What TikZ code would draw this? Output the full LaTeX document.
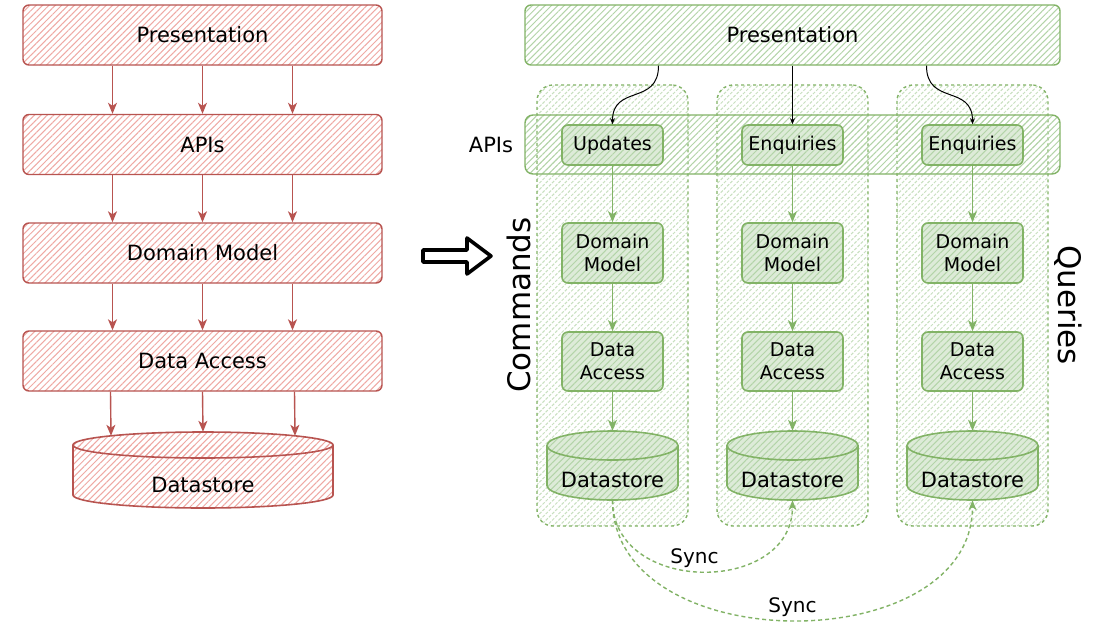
\documentclass[tikz,border=0pt]{standalone}
\usepackage{fontspec}
\setmainfont{DejaVu Sans}
\usetikzlibrary{arrows.meta,patterns.meta}
\definecolor{redline}{HTML}{B85450}
\definecolor{redhatch}{HTML}{EFA9A4}
\definecolor{greenline}{HTML}{82B366}
\definecolor{greenhatch}{HTML}{B3D4A8}
\definecolor{lanehatch}{HTML}{C8E0BF}
\definecolor{greenfill}{HTML}{DDEBD8}
\tikzset{
  hatch/.style={pattern={Lines[angle=45,distance=4.5pt,line width=1pt]}, pattern color=#1},
  txt/.style={font=\fontsize{21}{25}\selectfont},
  layer/.style={draw=redline, line width=1.4pt, rounded corners=6pt, hatch=redhatch, minimum width=359pt, minimum height=60pt, txt},
  lane/.style={draw=greenline, line width=1.4pt, dash pattern=on 3pt off 3pt, rounded corners=16pt, hatch=lanehatch, minimum width=151pt, minimum height=441pt},
  band/.style={draw=greenline, line width=1.4pt, rounded corners=8pt, hatch=greenhatch, minimum width=535pt, minimum height=59pt},
  cell/.style={draw=greenline, line width=1.6pt, rounded corners=6pt, preaction={fill=greenfill}, hatch=greenhatch, minimum width=101pt, align=center, font=\fontsize{19}{23}\selectfont},
  drum/.style={inner sep=0pt, txt},
  redcyl/.style={draw=redline, line width=1.6pt, hatch=redhatch},
  greencyl/.style={draw=greenline, line width=1.6pt, preaction={fill=greenfill}, hatch=greenhatch},
  redarrow/.style={draw=redline, line width=1.4pt, -{Stealth[length=11pt,width=9pt,inset=3pt]}},
  greenarrow/.style={draw=greenline, line width=1.4pt, -{Stealth[length=11pt,width=9pt,inset=3pt]}},
  feed/.style={draw=black, line width=1pt, -{Stealth[length=6pt,width=5pt]}},
  sync/.style={draw=greenline, line width=1.4pt, dash pattern=on 4pt off 3pt, -{Stealth[length=10pt,width=8pt,inset=3pt]}},
}
\newcommand{\lowtext}[1]{\smash{\raisebox{-22pt}{#1}}}
\begin{document}
\begin{tikzpicture}[x=1pt,y=-1pt]
\useasboundingbox[fill=white] (0,0) rectangle (1104,627);
\node[layer] (lpres) at (202.5,35) {Presentation};
\node[layer] (lapi) at (202.5,144.5) {APIs};
\node[layer] (ldm) at (202.5,253) {Domain Model};
\node[layer] (lda) at (202.5,361) {Data Access};
\draw[redcyl] (73,445) -- (73,495) arc[start angle=180, end angle=0, x radius=130, y radius=13] -- (333,445) arc[start angle=0, end angle=-180, x radius=130, y radius=13] -- cycle;
\draw[redcyl] (73,445) arc[start angle=180, end angle=0, x radius=130, y radius=13];
\node[drum, minimum width=260pt, minimum height=76pt] (lds) at (203,470) {\lowtext{Datastore}};
\draw[redarrow] ([xshift=-90pt]lpres.south) -- ([xshift=-90pt]lapi.north);
\draw[redarrow] (lpres.south) -- (lapi.north);
\draw[redarrow] ([xshift=90pt]lpres.south) -- ([xshift=90pt]lapi.north);
\draw[redarrow] ([xshift=-90pt]lapi.south) -- ([xshift=-90pt]ldm.north);
\draw[redarrow] (lapi.south) -- (ldm.north);
\draw[redarrow] ([xshift=90pt]lapi.south) -- ([xshift=90pt]ldm.north);
\draw[redarrow] ([xshift=-90pt]ldm.south) -- ([xshift=-90pt]lda.north);
\draw[redarrow] (ldm.south) -- (lda.north);
\draw[redarrow] ([xshift=90pt]ldm.south) -- ([xshift=90pt]lda.north);
\draw[redarrow] ([xshift=-92pt]lda.south) -- ([xshift=-92pt,yshift=-4pt]lds.north);
\draw[redarrow] (lda.south) -- (lds.north);
\draw[redarrow] ([xshift=92pt]lda.south) -- ([xshift=92pt,yshift=-4pt]lds.north);
\draw[line width=3.6pt, line join=round] (423,250) -- (467,250) -- (467,238) -- (491,256) -- (467,274) -- (467,262) -- (423,262) -- cycle;
\node[lane] (lane0) at (612.5,305.5) {};
\node[lane] (lane1) at (792.5,305.5) {};
\node[lane] (lane2) at (972.5,305.5) {};
\node[band] (rapi) at (792.5,144.5) {};
\node[layer, draw=greenline, hatch=greenhatch, minimum width=535pt] (rpres) at (792.5,35) {Presentation};
\node[txt] (apilbl) at (491,145) {APIs};
\node[font=\fontsize{31}{36}\selectfont, rotate=90] (cmd) at (519,305) {Commands};
\node[font=\fontsize{31}{36}\selectfont, rotate=-90] (qry) at (1068,305) {Queries};
\node[cell, minimum height=40pt] (upd) at (612.5,145) {Updates};
\node[cell, minimum height=40pt] (enq1) at (792.5,145) {Enquiries};
\node[cell, minimum height=40pt] (enq2) at (972.5,145) {Enquiries};
\node[cell, minimum height=60pt] (dm0) at (612.5,253) {Domain\\Model};
\node[cell, minimum height=60pt] (dm1) at (792.5,253) {Domain\\Model};
\node[cell, minimum height=60pt] (dm2) at (972.5,253) {Domain\\Model};
\node[cell, minimum height=59pt] (da0) at (612.5,361.5) {Data\\Access};
\node[cell, minimum height=59pt] (da1) at (792.5,361.5) {Data\\Access};
\node[cell, minimum height=59pt] (da2) at (972.5,361.5) {Data\\Access};
\draw[greencyl] (547,445.5) -- (547,485.5) arc[start angle=180, end angle=0, x radius=65.5, y radius=14.5] -- (678,445.5) arc[start angle=0, end angle=-180, x radius=65.5, y radius=14.5] -- cycle;
\draw[greencyl] (547,445.5) arc[start angle=180, end angle=0, x radius=65.5, y radius=14.5];
\draw[greencyl] (727,445.5) -- (727,485.5) arc[start angle=180, end angle=0, x radius=65.5, y radius=14.5] -- (858,445.5) arc[start angle=0, end angle=-180, x radius=65.5, y radius=14.5] -- cycle;
\draw[greencyl] (727,445.5) arc[start angle=180, end angle=0, x radius=65.5, y radius=14.5];
\draw[greencyl] (907,445.5) -- (907,485.5) arc[start angle=180, end angle=0, x radius=65.5, y radius=14.5] -- (1038,445.5) arc[start angle=0, end angle=-180, x radius=65.5, y radius=14.5] -- cycle;
\draw[greencyl] (907,445.5) arc[start angle=180, end angle=0, x radius=65.5, y radius=14.5];
\node[drum, minimum width=131pt, minimum height=69pt] (ds0) at (612.5,465.5) {\lowtext{Datastore}};
\node[drum, minimum width=131pt, minimum height=69pt] (ds1) at (792.5,465.5) {\lowtext{Datastore}};
\node[drum, minimum width=131pt, minimum height=69pt] (ds2) at (972.5,465.5) {\lowtext{Datastore}};
\draw[feed] ([xshift=-134pt]rpres.south) .. controls +(0,40) and +(0,-40) .. (upd.north);
\draw[feed] (rpres.south -| enq1.north) -- (enq1.north);
\draw[feed] ([xshift=134pt]rpres.south) .. controls +(0,40) and +(0,-40) .. (enq2.north);
\draw[greenarrow] (upd) -- (dm0);
\draw[greenarrow] (enq1) -- (dm1);
\draw[greenarrow] (enq2) -- (dm2);
\draw[greenarrow] (dm0) -- (da0);
\draw[greenarrow] (dm1) -- (da1);
\draw[greenarrow] (dm2) -- (da2);
\draw[greenarrow] (da0) -- (ds0.north);
\draw[greenarrow] (da1) -- (ds1.north);
\draw[greenarrow] (da2) -- (ds2.north);
\draw[sync] (ds0.south) .. controls +(0,95) and +(0,95) .. node[pos=0.47, above, font=\fontsize{20}{24}\selectfont] {Sync} (ds1.south);
\draw[sync] (ds0.south) .. controls +(0,160) and +(0,160) .. node[pos=0.5, above, font=\fontsize{20}{24}\selectfont] {Sync} (ds2.south);
\end{tikzpicture}
\end{document}
